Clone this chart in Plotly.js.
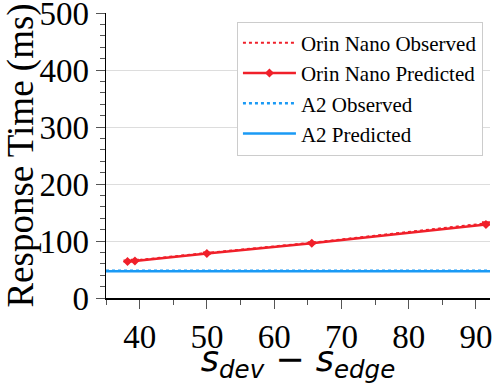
<!DOCTYPE html>
<html>
<head>
<meta charset="utf-8">
<script src="https://cdn.plot.ly/plotly-3.0.1.min.js"></script>
<style>
	html, body { margin: 0; padding: 0; background: #fff; }
	#chart { width: 493px; height: 384px; }
</style>
</head>
<body>
<div id="chart"></div>
<script>
const sizeDiff = [38.2, 39.3, 50, 65.6, 91.5];
const orinObserved = [65, 66, 79, 97, 131];
const orinObservedErr = [1, 1, 1, 1, 2];
const orinPredicted = [64, 65, 78, 96, 129];
const a2X = [35, 92.1];
const a2Observed = [48, 48];
const a2Predicted = [47, 47];

const red = '#f0202a';
const blue = '#1a9af5';
const serif = 'Liberation Serif';

const data = [{
	x: sizeDiff,
	y: orinObserved,
	name: 'Orin Nano Observed',
	type: 'scatter',
	mode: 'lines',
	line: { color: red, width: 2, dash: 'dot' },
	error_y: { type: 'data', array: orinObservedErr, visible: true, color: red, thickness: 2, width: 4 }
}, {
	x: sizeDiff,
	y: orinPredicted,
	name: 'Orin Nano Predicted',
	type: 'scatter',
	mode: 'lines+markers',
	line: { color: red, width: 2.5 },
	marker: { color: red, size: 7, symbol: 'diamond' }
}, {
	x: a2X,
	y: a2Observed,
	name: 'A2 Observed',
	type: 'scatter',
	mode: 'lines',
	line: { color: blue, width: 2.5, dash: 'dot' }
}, {
	x: a2X,
	y: a2Predicted,
	name: 'A2 Predicted',
	type: 'scatter',
	mode: 'lines',
	line: { color: blue, width: 2.5 }
}];

const layout = {
	width: 493,
	height: 384,
	margin: { l: 106, r: 3, t: 13, b: 86 },
	paper_bgcolor: '#fff',
	plot_bgcolor: '#fff',
	font: { family: serif, color: '#000' },
	showlegend: true,
	legend: {
		x: 0.341, y: 0.97, xanchor: 'left', yanchor: 'top',
		bgcolor: '#fff',
		bordercolor: '#cccccc',
		borderwidth: 1,
		font: { family: serif, size: 21, color: '#000' },
		tracegroupgap: 0,
		itemwidth: 53
	},
	xaxis: {
		range: [35, 92.1],
		tickvals: [40, 50, 60, 70, 80, 90],
		ticktext: ['40', '50', '60', '70', '80', '90'],
		ticks: 'outside',
		ticklen: 9,
		tickcolor: '#555',
		ticklabeloverflow: 'allow',
		showline: true,
		linecolor: '#000',
		linewidth: 1.5,
		showgrid: false,
		zeroline: false,
		tickfont: { family: serif, size: 33, color: '#000' },
		minor: { dtick: 5, ticks: 'outside', ticklen: 5, tickcolor: '#555' },
		title: {
			text: '<i>s<sub>dev</sub></i> − <i>s<sub>edge</sub></i>',
			font: { family: 'DejaVu Sans', size: 35, color: '#000' },
			standoff: 0
		}
	},
	yaxis: {
		range: [0, 500],
		tickvals: [0, 100, 200, 300, 400, 500],
		ticktext: ['0', '100', '200', '300', '400', '500'],
		ticks: 'outside',
		ticklen: 9,
		tickcolor: '#555',
		ticklabeloverflow: 'allow',
		showline: true,
		linecolor: '#000',
		linewidth: 1.5,
		showgrid: true,
		gridcolor: '#dddddd',
		zeroline: false,
		tickfont: { family: serif, size: 33, color: '#000' },
		minor: { dtick: 20, ticks: 'outside', ticklen: 5, tickcolor: '#555' },
		title: {
			text: 'Response Time (ms)',
			font: { family: serif, size: 37, color: '#000' },
			standoff: 3
		}
	}
};

Plotly.newPlot('chart', data, layout, { staticPlot: true });
</script>
</body>
</html>
